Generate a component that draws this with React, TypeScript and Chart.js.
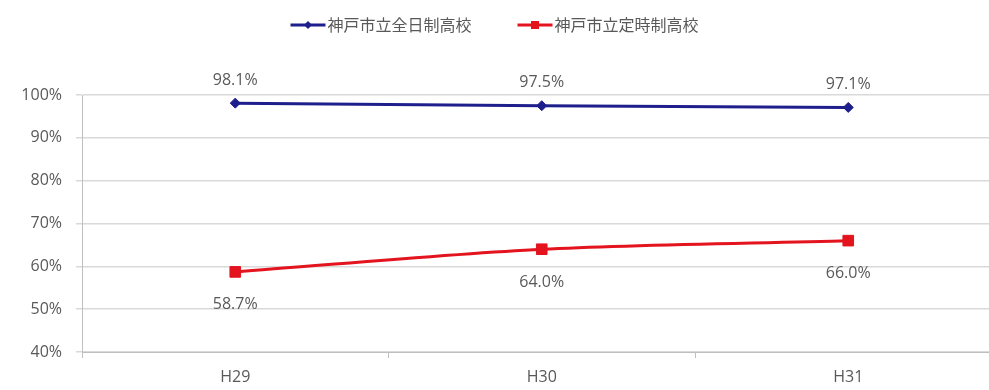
import React, { useEffect, useRef } from 'react';
import { Chart, registerables } from 'chart.js';

Chart.register(...registerables);

// School years on the horizontal axis
const categories = ['H29', 'H30', 'H31'];

// Series names
const fullTimeName = '神戸市立全日制高校';
const partTimeName = '神戸市立定時制高校';

// Rates in percent
const fullTimeRates = [98.1, 97.5, 97.1];
const partTimeRates = [58.7, 64.0, 66.0];

// Value axis range
const yMin = 40;
const yMax = 100;
const yStep = 10;

const BLUE = '#1E1E8C';
const RED = '#E3141E';
const TEXT = '#595959';
const FONT = '"Open Sans", "Noto Sans", sans-serif';
const VIEW_W = 989;
const CANVAS_W = 1010;
const CANVAS_H = 390;

const valueLabels = {
  id: 'valueLabels',
  afterDatasetsDraw(chart: any) {
    const ctx = chart.ctx;
    ctx.save();
    ctx.font = `16px ${FONT}`;
    ctx.fillStyle = TEXT;
    ctx.textAlign = 'center';
    ctx.textBaseline = 'middle';
    chart.data.datasets.forEach((ds: any, i: number) => {
      const meta = chart.getDatasetMeta(i);
      const above = ds.labelPlace === 'above';
      meta.data.forEach((pt: any, j: number) => {
        const v = ds.data[j] as number;
        const y = above ? pt.y - 23 : pt.y + 33;
        ctx.fillText(v.toFixed(1) + '%', pt.x, y);
      });
    });
    ctx.restore();
  },
};

const lineLegend = {
  id: 'lineLegend',
  afterDraw(chart: any) {
    const ctx = chart.ctx;
    ctx.save();
    ctx.font = `16px "Noto Sans CJK JP", sans-serif`;
    ctx.textBaseline = 'middle';
    const lineLen = 35;
    const gapText = 2;
    const gapItems = 46;
    const items = chart.data.datasets.map((ds: any) => ({
      ds,
      w: lineLen + gapText + ctx.measureText(ds.label).width,
    }));
    const total = items.reduce((s: number, it: any) => s + it.w, 0) + gapItems * (items.length - 1);
    let x = VIEW_W / 2 - total / 2;
    const y = 25;
    items.forEach((it: any) => {
      const ds = it.ds;
      ctx.strokeStyle = ds.borderColor;
      ctx.lineWidth = 3;
      ctx.beginPath();
      ctx.moveTo(x, y);
      ctx.lineTo(x + lineLen, y);
      ctx.stroke();
      ctx.fillStyle = ds.backgroundColor;
      const cx = x + lineLen / 2;
      if (ds.pointStyle === 'rect') {
        ctx.fillRect(cx - 4, y - 4, 8, 8);
      } else {
        ctx.beginPath();
        ctx.moveTo(cx, y - 4);
        ctx.lineTo(cx + 4, y);
        ctx.lineTo(cx, y + 4);
        ctx.lineTo(cx - 4, y);
        ctx.closePath();
        ctx.fill();
      }
      ctx.fillStyle = TEXT;
      ctx.textAlign = 'left';
      ctx.fillText(ds.label, x + lineLen + gapText, y);
      x += it.w + gapItems;
    });
    ctx.restore();
  },
};

export default function App() {
  const canvasRef = useRef<HTMLCanvasElement | null>(null);

  useEffect(() => {
    const canvas = canvasRef.current;
    if (!canvas) return;
    const chart = new Chart(canvas, {
      type: 'line',
      data: {
        labels: categories,
        datasets: [
          {
            label: fullTimeName,
            data: fullTimeRates,
            borderColor: BLUE,
            backgroundColor: BLUE,
            borderWidth: 3,
            pointStyle: 'rectRot',
            pointRadius: 5,
            pointHoverRadius: 5,
            pointBorderWidth: 1,
            tension: 0,
            labelPlace: 'above',
          } as any,
          {
            label: partTimeName,
            data: partTimeRates,
            borderColor: RED,
            backgroundColor: RED,
            borderWidth: 3,
            pointStyle: 'rect',
            pointRadius: 7.5,
            pointHoverRadius: 7.5,
            pointBorderWidth: 1,
            tension: 0.3,
            labelPlace: 'below',
          } as any,
        ],
      },
      options: {
        animation: false,
        responsive: false,
        maintainAspectRatio: false,
        layout: { padding: { top: 95, left: 0, right: 0, bottom: 0 } },
        plugins: {
          legend: { display: false },
          tooltip: { enabled: false },
        },
        scales: {
          x: {
            type: 'category',
            offset: true,
            grid: {
              offset: true,
              drawOnChartArea: false,
              drawTicks: true,
              tickLength: 6,
              color: '#BFBFBF',
            },
            border: { color: '#BFBFBF', width: 1 },
            ticks: {
              color: TEXT,
              font: { family: FONT, size: 16 },
              padding: 10,
              maxRotation: 0,
            },
            afterFit: (s: any) => {
              s.height = 38;
            },
          },
          y: {
            min: yMin,
            max: yMax,
            grid: {
              color: '#D9D9D9',
              lineWidth: 1.5,
              tickLength: 6,
            },
            border: { color: '#BFBFBF', width: 1 },
            ticks: {
              stepSize: yStep,
              color: TEXT,
              font: { family: FONT, size: 16 },
              padding: 14,
              callback: (v: any) => `${v}%`,
            },
            afterFit: (s: any) => {
              s.width = 82;
            },
          },
        },
      },
      plugins: [valueLabels, lineLegend],
    });
    return () => chart.destroy();
  }, []);

  return (
    <div
      style={{
        position: 'absolute',
        left: 0,
        top: 0,
        width: VIEW_W,
        height: CANVAS_H,
        overflow: 'hidden',
        background: '#fff',
      }}
    >
      <canvas
        ref={canvasRef}
        width={CANVAS_W}
        height={CANVAS_H}
        style={{ width: CANVAS_W, height: CANVAS_H, display: 'block' }}
      />
    </div>
  );
}
